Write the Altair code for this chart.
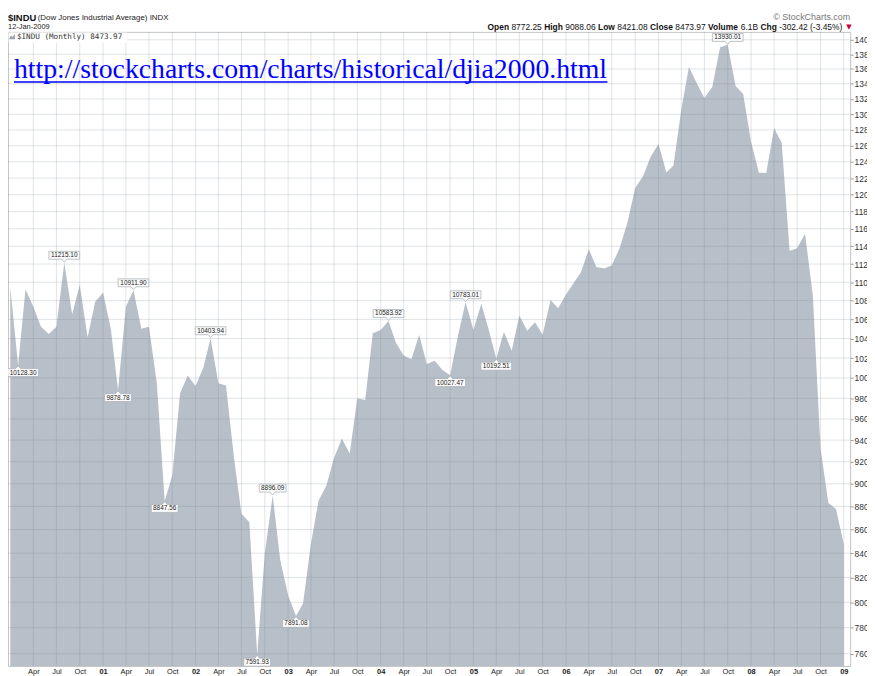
import altair as alt
import pandas as pd

# ---------------- data ----------------
months = pd.date_range("2000-01-01", periods=109, freq="MS").strftime("%Y-%m-%d").tolist()
closes = [
    10940.53, 10128.30, 10921.92, 10733.91, 10522.33, 10447.89, 10521.98, 11215.10, 10650.92, 10971.14, 10414.49, 10787.99,
    10887.36, 10495.28, 9878.78, 10734.97, 10911.90, 10502.40, 10522.81, 9949.75, 8847.56, 9075.14, 9851.56, 10021.50,
    9920.00, 10106.13, 10403.94, 9946.22, 9925.25, 9243.26, 8736.59, 8663.50, 7591.93, 8397.03, 8896.09, 8341.63,
    8053.81, 7891.08, 7992.13, 8480.09, 8850.26, 8985.44, 9233.80, 9415.82, 9275.06, 9801.12, 9782.46, 10453.92,
    10488.07, 10583.92, 10357.70, 10225.57, 10188.45, 10435.48, 10139.71, 10173.92, 10080.27, 10027.47, 10428.02, 10783.01,
    10489.94, 10766.23, 10503.76, 10192.51, 10467.48, 10274.97, 10640.91, 10481.60, 10568.70, 10440.07, 10805.87, 10717.50,
    10864.86, 10993.41, 11109.32, 11367.14, 11168.31, 11150.22, 11185.68, 11381.15, 11679.07, 12080.73, 12221.93, 12463.15,
    12621.69, 12268.63, 12354.35, 13062.91, 13627.64, 13408.62, 13211.99, 13357.74, 13895.63, 13930.01, 13371.72, 13264.82,
    12650.36, 12266.39, 12262.89, 12820.13, 12638.32, 11350.01, 11378.02, 11543.55, 10850.66, 9325.01, 8829.04, 8776.39,
    8473.97,
]

ann_dates = ["2000-02-01", "2000-08-01", "2001-03-01", "2001-05-01", "2001-09-01", "2002-03-01", "2002-09-01",
             "2002-11-01", "2003-02-01", "2004-02-01", "2004-10-01", "2004-12-01", "2005-04-01", "2007-10-01"]
ann_values = [10128.30, 11215.10, 9878.78, 10911.90, 8847.56, 10403.94, 7591.93,
              8896.09, 7891.08, 10583.92, 10027.47, 10783.01, 10192.51, 13930.01]
ann_side = ["below", "above", "below", "above", "below", "above", "below",
            "above", "below", "above", "below", "above", "below", "above"]
ann_nudge = [5, 0, 0, 0, 0, 0, 0, 0, 0, 0, 0, 0, 0, 0]

y_ticks = list(range(7600, 14001, 200))
x_ticks = pd.date_range("2000-04-01", "2009-01-01", freq="QS-JAN").strftime("%Y-%m-%d").tolist()

header_ohlc = [("Open", "bold"), ("8772.25", "normal"), ("High", "bold"), ("9088.06", "normal"),
               ("Low", "bold"), ("8421.08", "normal"), ("Close", "bold"), ("8473.97", "normal"),
               ("Volume", "bold"), ("6.1B", "normal"), ("Chg", "bold"), ("-302.42 (-3.45%)", "normal")]
header_ohlc_x = [484, 508.1, 541.2, 562.4, 595.5, 614.9, 648.0, 673.5, 706.6, 739.6, 759.5, 778.4]

# ---------------- frames ----------------
df = pd.DataFrame({"date": months, "close": closes})

ann = pd.DataFrame({"date": ann_dates, "value": ann_values, "side": ann_side, "nudge": ann_nudge})
ann["label"] = [f"{v:.2f}" for v in ann["value"]]


def box_path(side, n, nudge):
    hw = 15.5 if n >= 8 else 13.5
    s = -1 if side == "above" else 1
    l, r = -hw + nudge, hw + nudge
    return (f"M0,{0.5*s} L2.5,{3.5*s} L{r},{3.5*s} L{r},{11.5*s} "
            f"L{l},{11.5*s} L{l},{3.5*s} L-2.5,{3.5*s} Z")


ann["shape"] = [box_path(s, len(l), n) for s, l, n in zip(ann["side"], ann["label"], ann["nudge"])]

FONT = "Liberation Sans"
x_scale = alt.Scale(type="utc",
                    domain=[alt.DateTime(year=1999, month=12, date=23, utc=True),
                            alt.DateTime(year=2009, month=1, date=26, utc=True)])
y_scale = alt.Scale(type="log", domain=[7508, 14111], nice=False)

x_axis = alt.Axis(
    values=[alt.DateTime(year=int(d[:4]), month=int(d[5:7]), date=1, utc=True) for d in x_ticks],
    labelExpr="utcmonth(datum.value) == 0 ? utcFormat(datum.value, '%y') : utcFormat(datum.value, '%b')",
    labelFontWeight={"condition": {"test": "utcmonth(datum.value) == 0", "value": "bold"}, "value": "normal"},
    labelFont=FONT, labelFontSize=7.5, labelColor="#222", labelPadding=2,
    ticks=False, domain=False, grid=False, title=None, labelOverlap=False,
)
y_axis = alt.Axis(
    orient="right", values=y_ticks, format="d",
    labelFont=FONT, labelFontSize=8.5, labelColor="#333", labelPadding=1,
    tickSize=3, tickColor="#999", domain=False, grid=False, title=None, labelOverlap=False,
)

X = lambda f: alt.X(f, scale=x_scale, axis=x_axis)
Y = lambda f: alt.Y(f, scale=y_scale, axis=y_axis)

area = alt.Chart(df).mark_area(color="#b7bfc8").encode(
    x=X("date:T"),
    y=Y("close:Q"),
    y2=alt.datum(7508),
)

hgrid = alt.Chart(pd.DataFrame({"close": y_ticks})).mark_rule(
    color="#7d8793", opacity=0.24, strokeWidth=1
).encode(y=Y("close:Q"))

vgrid = alt.Chart(pd.DataFrame({"date": x_ticks})).mark_rule(
    color="#7d8793", opacity=0.24, strokeWidth=1
).encode(x=X("date:T"))

boxes = alt.Chart(ann).mark_point(
    filled=True, fill="#fbfbfb", stroke="#aeb3b8", strokeWidth=0.8, opacity=1, size=4
).encode(
    x=X("date:T"),
    y=Y("value:Q"),
    shape=alt.Shape("shape:N", scale=None, legend=None),
)


def ann_text(side, dy, nudge):
    return alt.Chart(ann).transform_filter(
        f"datum.side == '{side}' && datum.nudge == {nudge}"
    ).mark_text(
        font=FONT, fontSize=6.5, color="#222", baseline="middle", align="center", dy=dy, dx=nudge
    ).encode(
        x=X("date:T"),
        y=Y("value:Q"),
        text="label:N",
    )


one = pd.DataFrame({"a": [0]})


def txt(text, x, y, size, weight="normal", color="#222", font=FONT, align="left", baseline="middle"):
    return alt.Chart(one).mark_text(
        text=text, font=font, fontSize=size, fontWeight=weight, color=color,
        align=align, baseline=baseline
    ).encode(x=alt.value(x), y=alt.value(y))


legend_bg = alt.Chart(one).mark_rect(fill="white").encode(
    x=alt.value(0.5), x2=alt.value(120), y=alt.value(0.5), y2=alt.value(11))
legend_icon = alt.Chart(one).mark_point(
    filled=True, fill="#9aa3ad", size=4, opacity=1, shape="M-3,2.5 L-1,-1.5 L0.5,0.5 L3,-3 L3,2.5 Z"
).encode(x=alt.value(4), y=alt.value(5))

underline = alt.Chart(one).mark_rule(color="#0000ff", strokeWidth=1.5).encode(
    x=alt.value(6), x2=alt.value(605), y=alt.value(50.5))

texts = [
    txt("$INDU", 0, -14, 9.5, "bold", "#111"),
    txt("(Dow Jones Industrial Average) INDX", 30, -13.5, 8, "normal", "#222"),
    txt("12-Jan-2009", 0, -4.5, 7.5, "normal", "#222"),
    txt("© StockCharts.com", 850, -15, 9, "normal", "#777", align="right"),
    txt("▼", 846, -4.5, 7, "normal", "#cc0033", font="DejaVu Sans"),
    txt("$INDU (Monthly) 8473.97", 9, 5.5, 7.7, "normal", "#333", font="DejaVu Sans Mono"),
    txt("http://stockcharts.com/charts/historical/djia2000.html", 6, 47, 28, "normal", "#0000ff",
        font="Liberation Serif", baseline="alphabetic"),
]
for (t, w), xx in zip(header_ohlc, header_ohlc_x):
    texts.append(txt(t, xx, -4.5, 8.5, w, "#111"))

chart = alt.layer(
    area, hgrid, vgrid, boxes,
    ann_text("above", -7.5, 0), ann_text("below", 7.5, 0), ann_text("below", 7.5, 5),
    legend_bg, legend_icon, underline, *texts
).properties(
    width=850, height=640,
    autosize=alt.AutoSizeParams(type="none"),
    padding={"left": 0, "top": 21, "right": 17, "bottom": 7},
    background="white",
).configure_view(stroke="#c4c4c4", strokeWidth=1)

chart.save("out.html", embed_options={"renderer": "svg", "actions": False})
